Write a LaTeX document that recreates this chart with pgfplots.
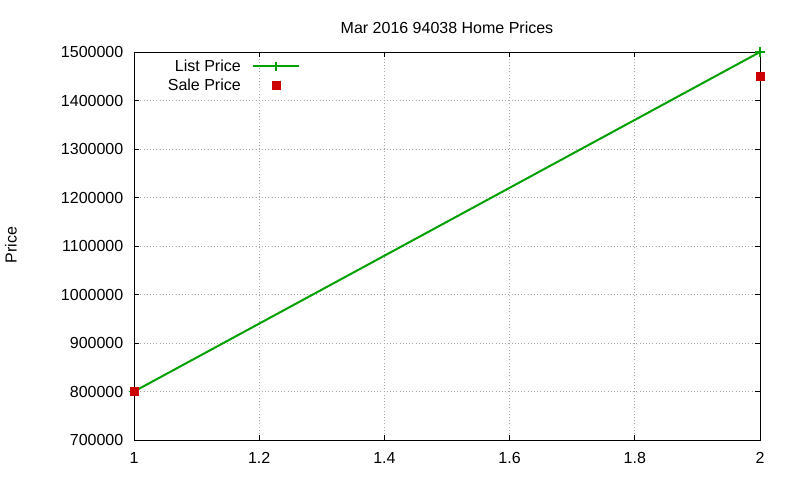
\documentclass[border=0pt]{standalone}
\usepackage{fontspec}
\setmainfont{Liberation Sans}
\usepackage{pgfplots}
\pgfplotsset{compat=1.18}

% one pixel of the 800x480 picture
\newlength{\px}
\setlength{\px}{0.75pt}

\definecolor{gpgreen}{RGB}{0,160,0}
\definecolor{gpred}{RGB}{204,0,0}

\begin{document}
\begin{tikzpicture}[font=\fontsize{12pt}{14pt}\selectfont]
\useasboundingbox (0,0) rectangle (800\px,480\px);
\begin{axis}[
    at={(134\px,40\px)},
    anchor=south west,
    scale only axis,
    width=626\px,
    height=388\px,
    xmin=1, xmax=2,
    ymin=700000, ymax=1500000,
    xtick={1,1.2,...,2},
    ytick={700000,800000,...,1500000},
    scaled ticks=false,
    /pgf/number format/assume math mode=true,
    xticklabel style={/pgf/number format/fixed, /pgf/number format/precision=1,
        yshift=-8\px},
    yticklabel style={/pgf/number format/fixed, /pgf/number format/1000 sep={},
        xshift=-6\px},
    tick style={black, line width=0.75pt},
    major tick length=5\px,
    axis line style={line width=0.75pt},
    grid=major,
    major grid style={gray!70, dotted, line width=0.75pt},
    clip=false,
    legend plot pos=right,
    legend cell align=right,
    legend style={draw=none, fill=none, at={(0.043,0.995)}, anchor=north west,
        row sep=0pt, column sep=9\px, font=\fontsize{12pt}{14pt}\selectfont},
    legend image code/.code={
        \draw[mark repeat=2, mark phase=2, #1]
            plot coordinates {(0pt,0pt) (17pt,0pt) (34pt,0pt)};
    },
]
\addplot[gpgreen, line width=1.5pt, mark=+, mark size=3.5pt,
    mark options={line width=1pt}] coordinates {
    (1,800000)
    (2,1500000)
};
\addlegendentry{List Price}
\addplot[only marks, gpred, mark=square*, mark size=3pt] coordinates {
    (1,800000)
    (2,1450000)
};
\addlegendentry{Sale Price}
\end{axis}
\node[anchor=base] at (447\px,447\px) {Mar 2016 94038 Home Prices};
\node[rotate=90] at (11\px,235\px) {Price};
\end{tikzpicture}
\end{document}
